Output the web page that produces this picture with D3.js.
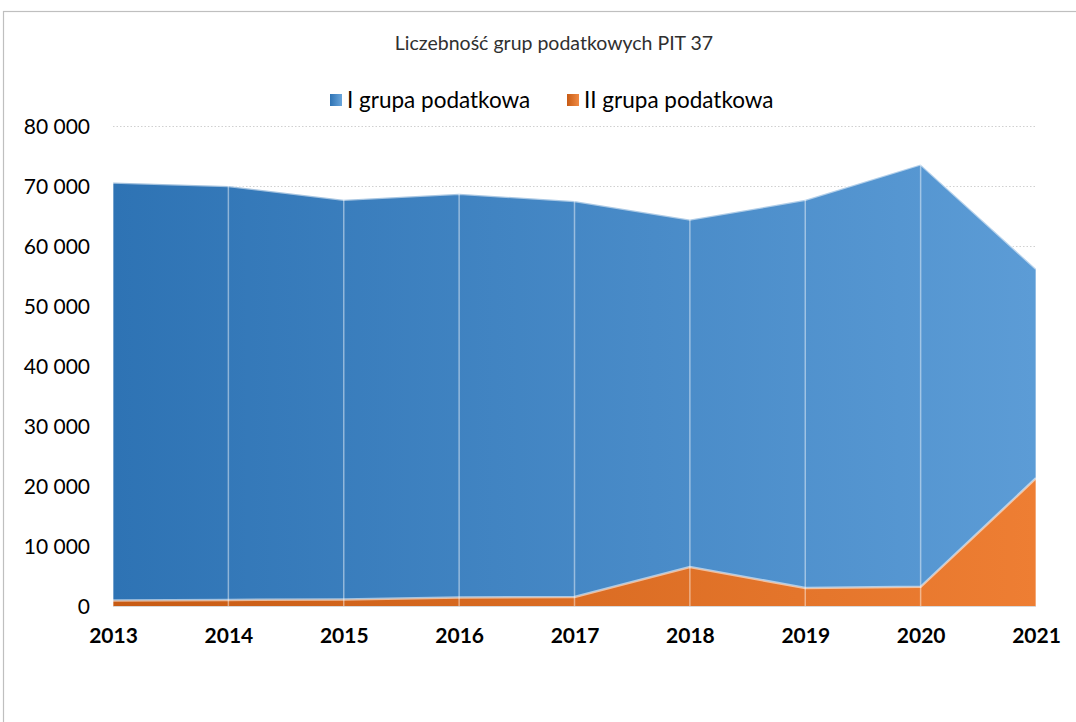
<!DOCTYPE html>
<html><head><meta charset="utf-8">
<script src="https://cdn.jsdelivr.net/npm/d3@7"></script>
<style>body{margin:0;background:#fff}svg{display:block}</style>
</head><body>
<svg id="c" width="1076" height="722"></svg>
<script>
const years = ["2013","2014","2015","2016","2017","2018","2019","2020","2021"];
const grupaI = [70600, 70000, 67700, 68700, 67500, 64400, 67700, 73600, 56200];
const grupaII = [900, 1000, 1100, 1400, 1500, 6500, 3000, 3200, 21300];
const yTicks = [0,10000,20000,30000,40000,50000,60000,70000,80000];
const title = "Liczebność grup podatkowych PIT 37";
const seriesNames = ["I grupa podatkowa","II grupa podatkowa"];

const svg = d3.select("#c");
const font = "Lato, 'Open Sans', sans-serif";
const defs = svg.append("defs");
// chart frame
svg.append("rect").attr("x",3.5).attr("y",11.5).attr("width",1100).attr("height",800)
  .attr("fill","#fff").attr("stroke","#bfbfbf").attr("stroke-width",1.2);

const x = d3.scalePoint().domain(years).range([113,1036]);
const y = d3.scaleLinear().domain([0,80000]).range([606,126]);

function grad(id, c0, c1, user){
  const g = defs.append("linearGradient").attr("id",id);
  if (user) g.attr("gradientUnits","userSpaceOnUse").attr("x1",113).attr("x2",1036).attr("y1",0).attr("y2",0);
  else g.attr("x1","0").attr("x2","1").attr("y1","0").attr("y2","0");
  g.append("stop").attr("offset","0").attr("stop-color",c0);
  g.append("stop").attr("offset","1").attr("stop-color",c1);
}
grad("gb","#2e73b4","#5c9cd6",true);
grad("go","#c75b14","#ee7e33",true);
grad("lbl","#2e73b4","#6aa6dc",false);
grad("lol","#c75b14","#f08a44",false);

// gridlines
svg.append("g").selectAll("line").data(yTicks.filter(d=>d>0)).join("line")
  .attr("x1",113).attr("x2",1036).attr("y1",d=>y(d)+0.5).attr("y2",d=>y(d)+0.5)
  .attr("stroke","#d0d0d0").attr("stroke-width",1).attr("stroke-dasharray","1.5,2");

const area = d3.area().x((d,i)=>x(years[i])).y0(y(0)).y1(d=>y(d));
const line = d3.line().x((d,i)=>x(years[i])).y(d=>y(d));

svg.append("path").datum(grupaI).attr("d",area).attr("fill","url(#gb)");
svg.append("path").datum(grupaI).attr("d",line).attr("fill","none")
  .attr("stroke","#ffffff").attr("stroke-opacity",0.55).attr("stroke-width",2.5);
svg.append("path").datum(grupaII).attr("d",area).attr("fill","url(#go)");
svg.append("path").datum(grupaII).attr("d",line).attr("fill","none")
  .attr("stroke","#ffffff").attr("stroke-opacity",0.55).attr("stroke-width",2.5);

// drop lines
svg.append("g").selectAll("line").data(years).join("line")
  .attr("x1",d=>x(d)).attr("x2",d=>x(d))
  .attr("y1",(d,i)=>y(Math.max(grupaI[i],grupaII[i]))).attr("y2",y(0))
  .attr("stroke","#ffffff").attr("stroke-opacity",0.45).attr("stroke-width",1.5);

// baseline
svg.append("line").attr("x1",113).attr("x2",1036).attr("y1",y(0)+0.5).attr("y2",y(0)+0.5)
  .attr("stroke","#d9d9d9").attr("stroke-width",1);

// y axis
const ya = svg.append("g").attr("transform","translate(90,0)")
  .call(d3.axisLeft(y).tickValues(yTicks).tickSize(0).tickPadding(0)
    .tickFormat(d=>d3.format(",")(d).replace(/,/g," ")));
ya.select(".domain").remove();
ya.selectAll("text").attr("font-family",font).attr("font-size",21).attr("fill","#000").attr("dy","0.35em");

// x axis
const xa = svg.append("g").attr("transform",`translate(0,${y(0)})`)
  .call(d3.axisBottom(x).tickSize(0).tickPadding(22));
xa.select(".domain").remove();
xa.selectAll("text").attr("font-family",font).attr("font-size",21).attr("font-weight","bold").attr("fill","#000");

// title
svg.append("text").attr("x",554).attr("y",50).attr("text-anchor","middle")
  .attr("font-family",font).attr("font-size",19.5).attr("fill","#303030").text(title);

// legend
const leg = svg.append("g");
const lx = [330,567];
seriesNames.forEach((n,i)=>{
  leg.append("rect").attr("x",lx[i]).attr("y",94).attr("width",12).attr("height",12)
    .attr("fill", i===0?"url(#lbl)":"url(#lol)");
  leg.append("text").attr("x",lx[i]+17).attr("y",108).attr("font-family",font)
    .attr("font-size",22.5).attr("fill","#000").text(n);
});
</script>
</body></html>
